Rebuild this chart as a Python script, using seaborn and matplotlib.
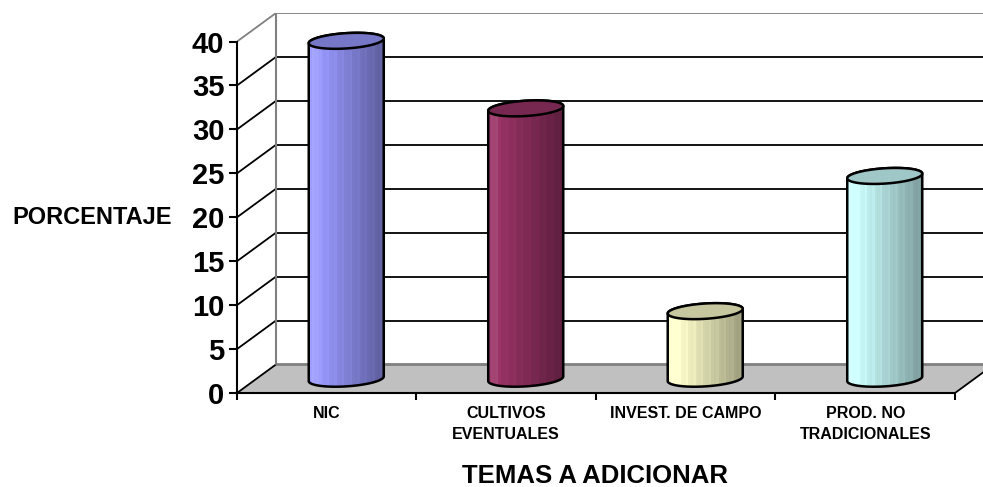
# Cylinder-style bar chart of the topics to add (percent of answers)

import numpy as np
import pandas as pd
import seaborn as sns
import matplotlib
matplotlib.use("Agg")
import matplotlib.pyplot as plt
from matplotlib.patches import Polygon
from matplotlib.colors import to_rgb

# data
categories = ["NIC", "CULTIVOS\nEVENTUALES", "INVEST. DE CAMPO", "PROD. NO\nTRADICIONALES"]
percent = [38.46, 30.77, 7.69, 23.08]
bar_colors = ["#9999FF", "#993366", "#FFFFCC", "#CCFFFF"]
y_ticks = [0, 5, 10, 15, 20, 25, 30, 35, 40]

sns.set_theme(style="white")
plt.rcParams["font.family"] = ["Liberation Sans", "DejaVu Sans"]
plt.rcParams["font.weight"] = "bold"
plt.rcParams["text.color"] = "black"
plt.rcParams["axes.labelcolor"] = "black"
plt.rcParams["xtick.color"] = "black"
plt.rcParams["ytick.color"] = "black"

W, H = 983, 487
fig = plt.figure(figsize=(W / 100, H / 100), dpi=100)
fig.patch.set_facecolor("white")
# front plane from x=237 to 955 px, depth offset 39 px right / 28.5 px up
ax = fig.add_axes([237 / W, (H - 393) / H, (994 - 237) / W, (393 - 13) / H])
ax.set_facecolor("none")

# depth of the 3d box in data units
DX = 0.2173
DY = 3.25
ymax = y_ticks[-1]

df = pd.DataFrame({"tema": categories, "pct": percent})
sns.barplot(data=df, x="tema", y="pct", hue="tema", palette=bar_colors,
            saturation=1, width=0.418, errorbar=None, legend=False, ax=ax)

x0 = -0.5
x1 = len(categories) - 0.5

# floor
floor = Polygon([(x0, 0), (x1, 0), (x1 + DX, DY), (x0 + DX, DY)], closed=True,
                facecolor="#c0c0c0", edgecolor="none", zorder=0.5)
ax.add_patch(floor)
ax.plot([x0 + DX, x1 + DX], [DY, DY], color="#808080", lw=2, zorder=0.8, solid_capstyle="butt")
ax.plot([x1, x1 + DX], [0, DY], color="black", lw=1.3, zorder=0.8)
ax.plot([x0, x0 + DX], [0, DY], color="black", lw=1.3, zorder=0.8)

# walls + gridlines
for v in y_ticks[1:]:
    c = "#808080" if v == ymax else "black"
    ax.plot([x0, x0 + DX], [v, v + DY], color=c, lw=1.3, zorder=1)
    ax.plot([x0 + DX, x1 + DX], [v + DY, v + DY], color=c, lw=1.3, zorder=1)
ax.plot([x0 + DX, x0 + DX], [DY, ymax + DY], color="#808080", lw=1.5, zorder=1)

# cylinders built from the seaborn bars
th = np.linspace(0, 2 * np.pi, 200)
for p in list(ax.patches):
    if p is floor:
        continue
    w = p.get_width()
    h = p.get_height()
    if w <= 0 or h <= 0:
        continue
    base_col = np.array(to_rgb(p.get_facecolor()))
    p.set_visible(False)

    cx = p.get_x() + w / 2 + DX / 2
    base = DY / 2
    top = base + h
    B = 0.28 * DX
    Bb = 0.28 * DY
    A = np.sqrt((w / 2) ** 2 - B ** 2)
    t0 = np.arctan2(B, A)

    tb = np.linspace(t0, t0 - np.pi, 80)
    tt = np.linspace(t0 + np.pi, t0, 80)
    xs = np.concatenate([cx + A * np.cos(tb) + B * np.sin(tb), cx + A * np.cos(tt) + B * np.sin(tt)])
    ys = np.concatenate([base + Bb * np.sin(tb), top + Bb * np.sin(tt)])
    body = Polygon(np.column_stack([xs, ys]), closed=True, facecolor=base_col,
                   edgecolor="none", zorder=3)
    ax.add_patch(body)

    # shading: light on the left, dark on the right, in bands
    n = 30
    t = (np.arange(n) + 0.5) / n
    k = np.where(t < 0.12, 1.0, 1.0 - 0.4 * (t - 0.12) / 0.88)
    white = np.where(t < 0.12, 0.05 + 0.05 * t / 0.12, 0.0)
    cols = base_col[None, :] * k[:, None]
    cols = cols + (1 - cols) * white[:, None]
    cols[1::3] = np.clip(cols[1::3] * 1.04, 0, 1)
    im = ax.imshow(cols[None, :, :], extent=[cx - w / 2, cx + w / 2, base - Bb, top + Bb],
                   aspect="auto", interpolation="nearest", zorder=3.1)
    im.set_clip_path(body)

    ax.add_patch(Polygon(np.column_stack([xs, ys]), closed=True, facecolor="none",
                         edgecolor="black", lw=1.8, zorder=3.2))
    ex = cx + A * np.cos(th) + B * np.sin(th)
    ey = top + Bb * np.sin(th)
    ax.add_patch(Polygon(np.column_stack([ex, ey]), closed=True, facecolor=base_col * 0.78,
                         edgecolor="black", lw=1.8, zorder=3.3))

ax.set_xlim(x0, x1 + DX)
ax.set_ylim(0, ymax + DY)

# axes
for s in ["top", "right"]:
    ax.spines[s].set_visible(False)
ax.spines["left"].set_bounds(0, ymax)
ax.spines["bottom"].set_bounds(x0, x1)
for s in ["left", "bottom"]:
    ax.spines[s].set_color("black")
    ax.spines[s].set_linewidth(1.5)
    ax.spines[s].set_zorder(2)

ax.set_yticks(y_ticks, labels=[str(v) for v in y_ticks])
ax.tick_params(axis="y", which="major", left=True, direction="out", length=6, width=1.5,
               color="black", pad=3, labelsize=21, labelcolor="black")
for lab in ax.get_yticklabels():
    lab.set_fontweight("bold")

ax.set_xticks(np.arange(x0, x1 + 0.01, 1.0), labels=[""] * (len(categories) + 1))
ax.set_xticks(range(len(categories)), labels=categories, minor=True)
ax.tick_params(axis="x", which="major", bottom=True, direction="out", length=5, width=1.5,
               color="black")
ax.tick_params(axis="x", which="minor", bottom=True, length=0, pad=9.5, labelsize=11.5,
               labelcolor="black")
for lab in ax.get_xticklabels(minor=True):
    lab.set_fontweight("bold")
    lab.set_multialignment("center")
    lab.set_linespacing(1.45)

ax.set_ylabel("PORCENTAJE", rotation=0, fontsize=17, fontweight="bold", ha="right",
              va="center", color="black")
ax.yaxis.set_label_coords(-65 / 757, 20 / (ymax + DY))
ax.set_xlabel("TEMAS A ADICIONAR", fontsize=18.5, fontweight="bold", color="black")
ax.xaxis.label.set_verticalalignment("center")
ax.xaxis.set_label_coords((595.5 - 237) / 757, -0.218)

fig.savefig("out.png", dpi=100, facecolor="white")
